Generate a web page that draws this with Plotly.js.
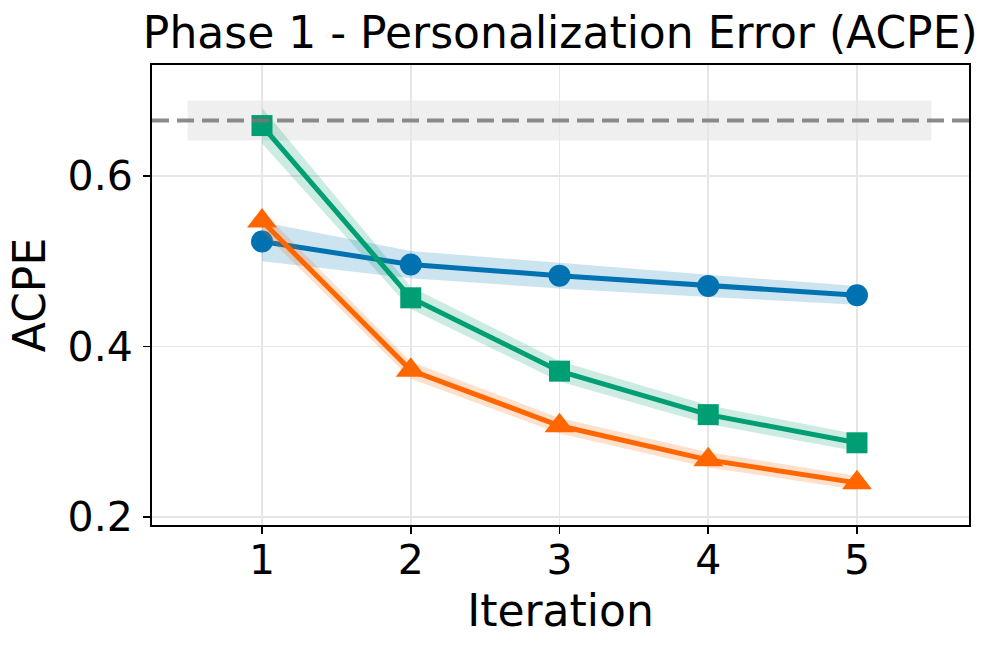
<!DOCTYPE html>
<html>
<head>
<meta charset="utf-8">
<script src="https://cdn.plot.ly/plotly-3.0.1.min.js"></script>
<style>html,body{margin:0;padding:0;background:#fff;}#chart{width:996px;height:652px;}</style>
</head>
<body>
<div id="chart"></div>
<script>
const iterations = [1, 2, 3, 4, 5];
const blueMean = [0.523, 0.496, 0.483, 0.471, 0.460];
const blueStd = [0.023, 0.016, 0.015, 0.013, 0.011];
const greenMean = [0.659, 0.457, 0.371, 0.320, 0.287];
const greenStd = [0.021, 0.013, 0.012, 0.011, 0.010];
const orangeMean = [0.547, 0.372, 0.307, 0.267, 0.240];
const orangeStd = [0.012, 0.010, 0.009, 0.009, 0.008];
const baselineValue = 0.665;
const baselineStd = 0.0235;
const baselineSpan = [0.5, 5.5];
const yTicks = [0.2, 0.4, 0.6];

const font = 'DejaVu Sans, sans-serif';

function band(mean, std, color) {
  const up = mean.map((m, i) => m + std[i]);
  const lo = mean.map((m, i) => m - std[i]);
  return [
    {x: iterations, y: lo, mode: 'lines', line: {width: 0}, showlegend: false, hoverinfo: 'skip'},
    {x: iterations, y: up, mode: 'lines', line: {width: 0}, fill: 'tonexty', fillcolor: color, showlegend: false, hoverinfo: 'skip'}
  ];
}
function line(mean, color, symbol, size) {
  return {x: iterations, y: mean, mode: 'lines+markers', line: {color: color, width: 5},
    marker: {symbol: symbol, size: size, color: color}, showlegend: false};
}

const blue = '#0072B2', green = '#009E73', orange = '#FF6600';
const data = [
  ...band(blueMean, blueStd, 'rgba(0,114,178,0.2)'),
  line(blueMean, blue, 'circle', 22),
  ...band(greenMean, greenStd, 'rgba(0,158,115,0.2)'),
  line(greenMean, green, 'square', 21),
  ...band(orangeMean, orangeStd, 'rgba(255,102,0,0.2)'),
  line(orangeMean, orange, 'triangle-up', 26)
];

const layout = {
  width: 996, height: 652,
  margin: {l: 152, r: 27, t: 65, b: 127},
  paper_bgcolor: '#fff', plot_bgcolor: '#fff',
  font: {family: font, color: '#000'},
  title: {text: 'Phase 1 - Personalization Error (ACPE)', font: {size: 44, family: font, color: '#000'},
    x: 0.5625, xanchor: 'center', y: 0.973, yanchor: 'top'},
  xaxis: {
    range: [0.2605, 5.753], tickvals: iterations, ticktext: iterations.map(String),
    tickfont: {size: 41}, ticks: 'outside', ticklen: 7, tickwidth: 1.5, tickcolor: '#000',
    showline: true, linecolor: '#000', linewidth: 2, mirror: true,
    showgrid: true, gridcolor: '#e6e6e6', gridwidth: 1.5, zeroline: false,
    ticklabelstandoff: -9,
    title: {text: 'Iteration', font: {size: 44}, standoff: 12}
  },
  yaxis: {
    range: [0.1906, 0.730], tickvals: yTicks, ticktext: yTicks.map(v => v.toFixed(1)),
    tickfont: {size: 41}, ticks: 'outside', ticklen: 7, tickwidth: 1.5, tickcolor: '#000',
    showline: true, linecolor: '#000', linewidth: 2, mirror: true,
    showgrid: true, gridcolor: '#e6e6e6', gridwidth: 1.5, zeroline: false,
    ticklabelstandoff: 2,
    title: {text: 'ACPE', font: {size: 44}, standoff: 8}
  },
  shapes: [
    {type: 'rect', layer: 'below', xref: 'x', yref: 'y', x0: baselineSpan[0], x1: baselineSpan[1],
      y0: baselineValue - baselineStd, y1: baselineValue + baselineStd,
      fillcolor: 'rgba(128,128,128,0.13)', line: {width: 0}},
    {type: 'line', layer: 'above', xref: 'paper', yref: 'y', x0: 0, x1: 1, y0: baselineValue, y1: baselineValue,
      line: {color: 'rgba(120,120,120,0.85)', width: 4, dash: '17px,8px'}}
  ]
};

Plotly.newPlot('chart', data, layout, {staticPlot: true, displayModeBar: false});
</script>
</body>
</html>
